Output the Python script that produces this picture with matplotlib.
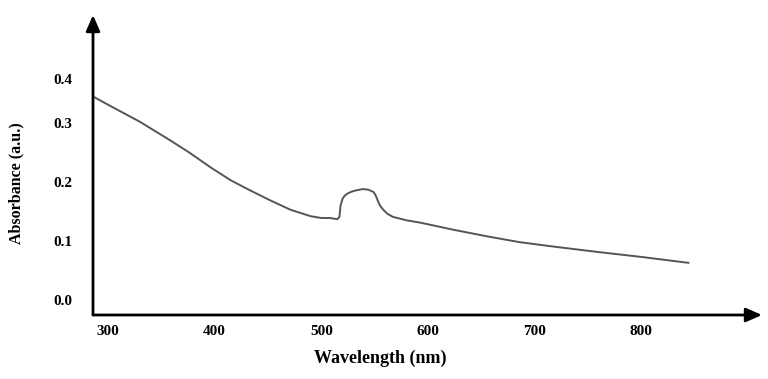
import matplotlib.pyplot as plt

# absorbance spectrum
wavelength = [287, 300, 330, 358, 377, 396, 415, 433, 452, 471, 490, 500,
              508, 515, 517, 518, 520, 522, 525, 529, 533, 539, 544, 549,
              551, 553, 555, 558, 562, 567, 580, 593, 624, 655, 686, 720,
              761, 800, 844]
absorbance = [0.344, 0.331, 0.302, 0.271, 0.249, 0.225, 0.203, 0.186, 0.169,
              0.153, 0.142, 0.139, 0.139, 0.137, 0.141, 0.160, 0.172, 0.177,
              0.181, 0.184, 0.186, 0.188, 0.187, 0.183, 0.177, 0.168, 0.160,
              0.153, 0.146, 0.141, 0.135, 0.131, 0.119, 0.108, 0.098, 0.090,
              0.081, 0.073, 0.063]

x_ticks = [300, 400, 500, 600, 700, 800]
x_labels = ['300', '400', '500', '600', '700', '800']
# the "0.4" label sits lower than an even spacing in the original
y_ticks = [0.0, 0.1, 0.2, 0.3, 0.375]
y_labels = ['0.0', '0.1', '0.2', '0.3', '0.4']

plt.rcParams['font.family'] = ['Liberation Serif', 'DejaVu Serif']

fig = plt.figure(figsize=(7.68, 3.79), dpi=100)
ax = fig.add_axes([93 / 768, 64 / 379, 669 / 768, 300 / 379])

ax.plot(wavelength, absorbance, color='#555555', lw=1.4)

ax.set_xlim(286, 913)
ax.set_ylim(-0.0254, 0.483)

for s in ax.spines.values():
    s.set_visible(False)

arrow = dict(arrowstyle='-|>,head_width=0.35,head_length=0.8', color='black',
             lw=2, mutation_scale=12, shrinkA=0, shrinkB=0)
ax.annotate('', xy=(1, 0), xytext=(0, 0), xycoords='axes fraction',
            arrowprops=arrow)
ax.annotate('', xy=(0, 1), xytext=(0, 0), xycoords='axes fraction',
            arrowprops=arrow)

ax.set_xticks(x_ticks)
ax.set_xticklabels(x_labels, fontsize=11, fontweight='bold')
ax.set_yticks(y_ticks)
ax.set_yticklabels(y_labels, fontsize=11, fontweight='bold')
ax.tick_params(axis='x', length=0, pad=7)
ax.tick_params(axis='y', length=0, pad=15)

ax.set_xlabel('Wavelength (nm)', fontsize=13, fontweight='bold')
ax.set_ylabel('Absorbance (a.u.)', fontsize=11.5, fontweight='bold')
ax.xaxis.set_label_coords(0.429, -0.115)
ax.yaxis.set_label_coords(-0.103, 0.44)

fig.savefig('out.png', dpi=100)
